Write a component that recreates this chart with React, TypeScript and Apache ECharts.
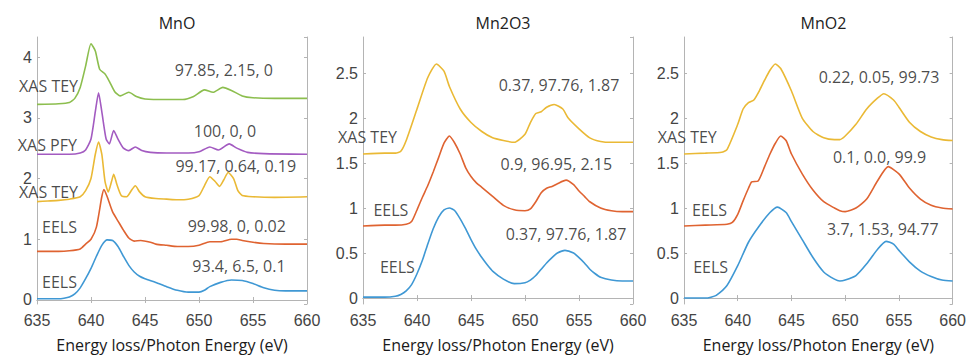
import React, { useEffect, useRef } from "react";
import * as echarts from "echarts";

// ---------- Data ----------
const panelTitles = ["MnO", "Mn2O3", "MnO2"];
const xTicks = [635, 640, 645, 650, 655, 660];
const axisName = "Energy loss/Photon Energy (eV)";

// MnO panel
const mnoBlueX = [635, 636, 637, 637.5, 638, 638.5, 639, 639.5, 640, 640.5, 641, 641.5, 642, 642.5, 643, 643.5, 644, 644.5, 645, 646, 647, 648, 649, 650, 650.5, 651, 652, 653, 654, 655, 656, 657, 658, 659, 660];
const mnoBlueY = [0.02, 0.02, 0.02, 0.03, 0.05, 0.1, 0.2, 0.35, 0.52, 0.72, 0.9, 0.99, 0.98, 0.88, 0.72, 0.57, 0.46, 0.39, 0.35, 0.29, 0.22, 0.16, 0.13, 0.13, 0.16, 0.22, 0.29, 0.33, 0.32, 0.27, 0.2, 0.16, 0.15, 0.15, 0.15];

const mnoOrangeX = [635, 637, 638, 639, 639.5, 640, 640.5, 641, 641.2, 641.5, 642, 642.5, 643, 643.5, 644, 644.6, 645.5, 646, 647, 648, 649, 650, 651, 652, 653, 653.5, 654, 655, 656, 658, 660];
const mnoOrangeY = [0.8, 0.8, 0.81, 0.84, 0.92, 1.0, 1.2, 1.7, 1.82, 1.7, 1.45, 1.3, 1.15, 1.02, 0.97, 0.98, 0.95, 0.92, 0.9, 0.88, 0.88, 0.9, 0.96, 0.96, 1.0, 1.0, 0.98, 0.95, 0.93, 0.92, 0.92];

const mnoYellowX = [635, 636, 637, 638, 639, 639.5, 640, 640.4, 640.7, 641, 641.3, 641.6, 641.9, 642.1, 642.4, 642.8, 643.3, 643.8, 644.1, 644.5, 645, 646, 647, 648, 649, 650, 650.5, 651, 651.5, 651.9, 652.3, 652.7, 653.2, 653.6, 654, 655, 657, 660];
const mnoYellowY = [1.62, 1.63, 1.64, 1.66, 1.7, 1.8, 2.0, 2.4, 2.6, 2.4, 1.95, 1.78, 1.95, 2.07, 1.9, 1.72, 1.7, 1.82, 1.88, 1.78, 1.7, 1.67, 1.66, 1.65, 1.66, 1.72, 1.88, 2.03, 1.95, 1.87, 1.98, 2.1, 2.0, 1.8, 1.72, 1.7, 1.69, 1.7];

const mnoPurpleX = [635, 638, 639, 639.5, 640, 640.4, 640.7, 641, 641.4, 641.7, 642.1, 642.5, 643, 643.5, 644.1, 644.7, 645.5, 647, 649, 650, 651, 651.8, 652.8, 653.5, 654.5, 656, 660];
const mnoPurpleY = [2.4, 2.4, 2.42, 2.47, 2.65, 3.1, 3.41, 3.1, 2.65, 2.57, 2.79, 2.65, 2.5, 2.46, 2.52, 2.46, 2.43, 2.42, 2.42, 2.44, 2.52, 2.47, 2.57, 2.5, 2.43, 2.41, 2.4];

const mnoGreenX = [635, 637, 638, 638.5, 639, 639.5, 640, 640.4, 640.8, 641.3, 641.7, 642.2, 642.7, 643.5, 644.2, 645, 647, 648.5, 649.5, 650.5, 651.3, 652.2, 653, 654, 655, 657, 660];
const mnoGreenY = [3.22, 3.23, 3.25, 3.32, 3.5, 3.85, 4.22, 4.1, 3.8, 3.72, 3.6, 3.43, 3.36, 3.42, 3.35, 3.31, 3.3, 3.3, 3.35, 3.46, 3.42, 3.5, 3.45, 3.36, 3.33, 3.32, 3.32];

// Mn2O3 panel
const mn2o3BlueX = [635, 637, 638, 638.5, 639, 639.5, 640, 640.5, 641, 641.5, 642, 642.5, 643, 643.5, 644, 644.5, 645, 645.5, 646, 646.5, 647, 648, 649, 650, 650.5, 651, 651.5, 652, 652.5, 653, 653.7, 654.5, 655, 655.5, 656, 656.5, 657, 658, 659, 660];
const mn2o3BlueY = [0.01, 0.01, 0.02, 0.04, 0.08, 0.15, 0.27, 0.42, 0.6, 0.77, 0.9, 0.98, 1.0, 0.97, 0.88, 0.77, 0.65, 0.54, 0.45, 0.37, 0.3, 0.21, 0.16, 0.17, 0.2, 0.25, 0.32, 0.39, 0.45, 0.5, 0.53, 0.5, 0.45, 0.39, 0.32, 0.27, 0.23, 0.2, 0.19, 0.19];

const mn2o3OrangeX = [635, 637, 638, 639, 639.5, 640, 640.5, 641, 641.5, 642, 642.5, 643, 643.5, 644, 644.5, 645, 645.5, 646, 647, 648, 649, 650, 650.5, 651, 651.5, 652, 652.5, 653, 653.8, 654.5, 655, 655.5, 656, 657, 658, 659, 660];
const mn2o3OrangeY = [0.8, 0.81, 0.81, 0.82, 0.85, 0.98, 1.12, 1.25, 1.4, 1.56, 1.72, 1.8, 1.72, 1.6, 1.45, 1.35, 1.28, 1.23, 1.13, 1.03, 0.98, 0.97, 0.99, 1.07, 1.17, 1.22, 1.24, 1.27, 1.31, 1.26, 1.19, 1.13, 1.07, 1.0, 0.97, 0.96, 0.96];

const mn2o3YellowX = [635, 637, 638, 638.5, 639, 640, 641, 641.8, 642.5, 643, 644, 645, 646, 647, 648, 649, 650, 650.5, 651, 651.5, 652, 652.7, 653.5, 654, 655, 656, 657, 658, 660];
const mn2o3YellowY = [1.6, 1.61, 1.61, 1.63, 1.75, 2.1, 2.45, 2.6, 2.52, 2.35, 2.1, 1.95, 1.85, 1.78, 1.75, 1.73, 1.82, 1.95, 2.05, 2.07, 2.12, 2.15, 2.1, 2.0, 1.88, 1.78, 1.74, 1.73, 1.73];

// MnO2 panel
const mno2BlueX = [635, 637, 637.5, 638, 639, 640, 641, 642, 643, 643.7, 644.5, 645, 646, 647, 648, 649, 649.5, 650, 651, 652, 653, 653.8, 654.5, 655, 656, 657, 658, 659, 660];
const mno2BlueY = [0.0, 0.0, 0.01, 0.03, 0.14, 0.36, 0.62, 0.8, 0.95, 1.01, 0.95, 0.85, 0.65, 0.45, 0.29, 0.21, 0.19, 0.2, 0.25, 0.38, 0.54, 0.63, 0.6, 0.53, 0.4, 0.3, 0.24, 0.2, 0.19];

const mno2OrangeX = [635, 637, 639, 639.5, 640, 640.5, 641, 641.3, 641.9, 642.5, 643, 643.5, 644, 644.5, 645, 646, 647, 648, 649, 649.5, 650, 651, 652, 653, 654, 655, 656, 657, 658, 659, 660];
const mno2OrangeY = [0.8, 0.81, 0.82, 0.84, 0.93, 1.08, 1.22, 1.29, 1.3, 1.46, 1.6, 1.72, 1.8, 1.75, 1.6, 1.38, 1.2, 1.07, 1.0, 0.97, 0.96, 1.0, 1.1, 1.3, 1.46, 1.38, 1.22, 1.1, 1.03, 1.0, 0.99];

const mno2YellowX = [635, 637, 638.5, 639, 640, 640.5, 641, 641.5, 642, 642.5, 643, 643.5, 644, 645, 646, 647, 648, 649, 649.5, 650, 651, 652, 653, 653.6, 654.5, 655, 656, 657, 658, 659, 660];
const mno2YellowY = [1.6, 1.61, 1.62, 1.65, 1.93, 2.1, 2.17, 2.2, 2.3, 2.42, 2.53, 2.6, 2.55, 2.3, 2.0, 1.85, 1.78, 1.76, 1.76, 1.8, 1.93, 2.1, 2.22, 2.27, 2.2, 2.12, 1.95, 1.85, 1.79, 1.76, 1.75];

// Text annotations (text, energy, intensity)
const mnoNotes = ["97.85, 2.15, 0", "100, 0, 0", "99.17, 0.64, 0.19", "99.98, 0, 0.02", "93.4, 6.5, 0.1"];
const mnoNoteX = [652.3, 652.4, 653.4, 653.5, 653.7];
const mnoNoteY = [3.79, 2.79, 2.2, 1.21, 0.56];
const mnoTags = ["XAS TEY", "XAS PFY", "XAS TEY", "EELS", "EELS"];
const mnoTagX = [638.8, 638.7, 638.8, 638.7, 638.7];
const mnoTagY = [3.52, 2.56, 1.77, 1.2, 0.3];

const mn2o3Notes = ["0.37, 97.76, 1.87", "0.9, 96.95, 2.15", "0.37, 97.76, 1.87"];
const mn2o3NoteX = [653.15, 652.9, 653.8];
const mn2o3NoteY = [2.37, 1.49, 0.71];
const mn2o3Tags = ["XAS TEY", "EELS", "EELS"];
const mn2o3TagX = [638.15, 639.2, 639.8];
const mn2o3TagY = [1.79, 0.98, 0.35];

const mno2Notes = ["0.22, 0.05, 99.73", "0.1, 0.0, 99.9", "3.7, 1.53, 94.77"];
const mno2NoteX = [653.15, 653.2, 653.5];
const mno2NoteY = [2.46, 1.57, 0.77];
const mno2Tags = ["XAS TEY", "EELS", "EELS"];
const mno2TagX = [638.05, 639.0, 639.1];
const mno2TagY = [1.79, 0.98, 0.35];

// ---------- Styling ----------
const C = {
  blue: "#3f98d4",
  orange: "#df6331",
  yellow: "#eab935",
  purple: "#a35bc1",
  green: "#8cbe4e",
};
const FONT = "Open Sans";
const BOX = "#b4b4b4";

const zip = (xs: number[], ys: number[]) => xs.map((x, i) => [x, ys[i]]);

const App: React.FC = () => {
  const ref = useRef<HTMLDivElement>(null);

  useEffect(() => {
    if (!ref.current) return;
    const chart = echarts.init(ref.current, null, { renderer: "svg" });

    const grids = [
      { left: 37, top: 37, width: 270, height: 268 },
      { left: 363, top: 37, width: 270, height: 268 },
      { left: 684, top: 37, width: 269, height: 268 },
    ];
    const yRanges = [
      { min: -0.066, max: 4.33, split: 5 },
      { min: -0.066, max: 2.9, split: 6 },
      { min: -0.066, max: 2.9, split: 6 },
    ];

    const xAxis: any[] = [];
    const yAxis: any[] = [];
    grids.forEach((_, i) => {
      xAxis.push({
        type: "value",
        gridIndex: i,
        min: xTicks[0],
        max: xTicks[xTicks.length - 1],
        interval: 5,
        position: "bottom",
        name: axisName,
        nameLocation: "middle",
        nameGap: 33,
        nameTextStyle: { fontFamily: FONT, fontSize: 16, color: "#1a1a1a" },
        axisLine: { show: true, lineStyle: { color: BOX, width: 1 } },
        axisTick: { show: true, inside: true, length: 3, lineStyle: { color: BOX } },
        axisLabel: { fontFamily: "Liberation Sans", fontSize: 16, color: "#444", margin: 8 },
        splitLine: { show: false },
      });
      xAxis.push({
        type: "value",
        gridIndex: i,
        min: xTicks[0],
        max: xTicks[xTicks.length - 1],
        interval: 5,
        position: "top",
        axisLine: { show: true, lineStyle: { color: BOX, width: 1 } },
        axisTick: { show: true, inside: true, length: 3, lineStyle: { color: BOX } },
        axisLabel: { show: false },
        splitLine: { show: false },
      });
      const yr = yRanges[i];
      const fmt = (v: number) => {
        const ok = Math.abs(v * 2 - Math.round(v * 2)) < 1e-6 && v >= 0;
        return ok ? String(Math.round(v * 10) / 10) : "";
      };
      yAxis.push({
        type: "value",
        gridIndex: i,
        min: yr.min,
        max: yr.max,
        splitNumber: yr.split,
        position: "left",
        axisLine: { show: true, lineStyle: { color: BOX, width: 1 } },
        axisTick: { show: true, inside: true, length: 3, lineStyle: { color: BOX } },
        axisLabel: { fontFamily: "Liberation Sans", fontSize: 16, color: "#444", margin: 5, formatter: fmt, showMinLabel: false, showMaxLabel: false },
        splitLine: { show: false },
      });
      yAxis.push({
        type: "value",
        gridIndex: i,
        min: yr.min,
        max: yr.max,
        splitNumber: yr.split,
        position: "right",
        axisLine: { show: true, lineStyle: { color: BOX, width: 1 } },
        axisTick: { show: true, inside: true, length: 3, lineStyle: { color: BOX } },
        axisLabel: { show: false },
        splitLine: { show: false },
      });
    });

    const line = (panel: number, xs: number[], ys: number[], color: string) => ({
      type: "line",
      xAxisIndex: panel * 2,
      yAxisIndex: panel * 2,
      data: zip(xs, ys),
      showSymbol: false,
      smooth: 0.2,
      lineStyle: { color, width: 1.6 },
      itemStyle: { color },
      silent: true,
    });

    const textSeries = (panel: number, texts: string[], xs: number[], ys: number[], align: string) => ({
      type: "scatter",
      xAxisIndex: panel * 2,
      yAxisIndex: panel * 2,
      symbolSize: 0,
      clip: false,
      silent: true,
      data: texts.map((t, i) => ({ value: [xs[i], ys[i]], name: t })),
      label: {
        show: true,
        position: "inside",
        align,
        verticalAlign: "middle",
        formatter: (p: any) => p.name,
        fontFamily: FONT,
        fontSize: 16,
        color: "#1a1a1a",
      },
    });

    const series = [
      line(0, mnoBlueX, mnoBlueY, C.blue),
      line(0, mnoOrangeX, mnoOrangeY, C.orange),
      line(0, mnoYellowX, mnoYellowY, C.yellow),
      line(0, mnoPurpleX, mnoPurpleY, C.purple),
      line(0, mnoGreenX, mnoGreenY, C.green),
      line(1, mn2o3BlueX, mn2o3BlueY, C.blue),
      line(1, mn2o3OrangeX, mn2o3OrangeY, C.orange),
      line(1, mn2o3YellowX, mn2o3YellowY, C.yellow),
      line(2, mno2BlueX, mno2BlueY, C.blue),
      line(2, mno2OrangeX, mno2OrangeY, C.orange),
      line(2, mno2YellowX, mno2YellowY, C.yellow),
      textSeries(0, mnoNotes, mnoNoteX, mnoNoteY, "center"),
      textSeries(0, mnoTags, mnoTagX, mnoTagY, "right"),
      textSeries(1, mn2o3Notes, mn2o3NoteX, mn2o3NoteY, "center"),
      textSeries(1, mn2o3Tags, mn2o3TagX, mn2o3TagY, "right"),
      textSeries(2, mno2Notes, mno2NoteX, mno2NoteY, "center"),
      textSeries(2, mno2Tags, mno2TagX, mno2TagY, "right"),
    ];

    const title = panelTitles.map((t, i) => ({
      text: t,
      left: grids[i].left + grids[i].width / 2,
      top: 10,
      textAlign: "center",
      textStyle: { fontFamily: FONT, fontSize: 16, fontWeight: "normal", color: "#222" },
    }));

    chart.setOption({
      animation: false,
      backgroundColor: "#ffffff",
      title,
      grid: grids.map((g) => ({ ...g, containLabel: false })),
      xAxis,
      yAxis,
      series,
    });

    return () => chart.dispose();
  }, []);

  return (
    <div
      ref={ref}
      style={{ position: "fixed", left: 0, top: 0, width: 969, height: 358, background: "#fff" }}
    />
  );
};

export default App;
